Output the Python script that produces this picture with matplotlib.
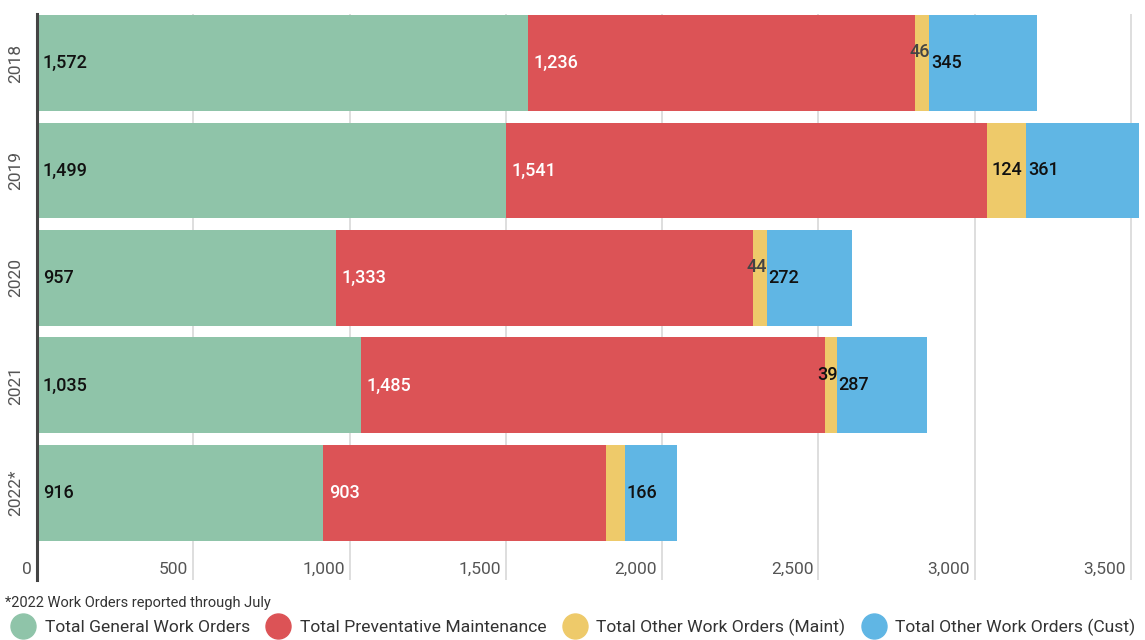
import matplotlib.pyplot as plt
from matplotlib.lines import Line2D
import numpy as np

plt.rcParams['font.family'] = ['Roboto', 'DejaVu Sans']

years = ["2018", "2019", "2020", "2021", "2022*"]
general = [1572, 1499, 957, 1035, 916]
preventative = [1236, 1541, 1333, 1485, 903]
other_maint = [46, 124, 44, 39, 62]
other_cust = [345, 361, 272, 287, 166]

series_names = ["Total General Work Orders", "Total Preventative Maintenance",
                "Total Other Work Orders (Maint)", "Total Other Work Orders (Cust)"]
colors = ["#8fc4a9", "#dc5356", "#eeca6a", "#60b6e4"]
x_ticks = [0, 500, 1000, 1500, 2000, 2500, 3000, 3500]

fig = plt.figure(figsize=(11.45, 6.4), dpi=100)
ax = fig.add_axes([37 / 1145, 1 - 580 / 640, 1104 / 1145, 566 / 640])

y = np.arange(len(years))
series = [general, preventative, other_maint, other_cust]
left = np.zeros(len(years))
for vals, color in zip(series, colors):
    ax.barh(y, vals, left=left, height=0.893, color=color, zorder=2)
    left += np.array(vals)

# value labels
lbl = dict(fontsize=13, fontweight='medium', zorder=3)
for i in range(len(years)):
    ax.text(18, y[i], f"{general[i]:,}", va='center', ha='left', color='#111111', **lbl)
    ax.text(general[i] + 18, y[i], f"{preventative[i]:,}", va='center', ha='left',
            color='white', **lbl)
    start = general[i] + preventative[i]
    end = start + other_maint[i]
    if years[i] == "2019":
        ax.text(start + other_maint[i] / 2, y[i], f"{other_maint[i]:,}", va='center',
                ha='center', color='#111111', **lbl)
    elif not years[i].endswith("*"):
        shade = '#111111' if years[i] == "2021" else '#444444'
        ax.text(end + 3, y[i] - 0.1, f"{other_maint[i]:,}", va='center', ha='right',
                color=shade, **lbl)
    ax.text(end + 6, y[i], f"{other_cust[i]:,}", va='center', ha='left',
            color='#111111', **lbl)

ax.set_xlim(0, 3532)
ax.set_ylim(4.81, -0.456)
ax.set_yticks(y)
ax.set_yticklabels(years, rotation=90, va='center', fontsize=12.5, color='#555555')
ax.tick_params(axis='y', length=0, pad=10)

# x tick labels sit inside the plot, just left of each gridline
ax.set_xticks([])
for t in x_ticks:
    ax.axvline(t, color='#dedede', lw=1.4, zorder=1)
    ax.text(t - 16, 0.018, f"{t:,}", transform=ax.get_xaxis_transform(),
            ha='right', va='center', fontsize=12.5, color='#555555')

for side in ['top', 'right', 'bottom']:
    ax.spines[side].set_visible(False)
ax.spines['left'].set_color('#444444')
ax.spines['left'].set_linewidth(2.2)
ax.spines['left'].set_zorder(4)

fig.text(5 / 1145, 1 - 603 / 640, "*2022 Work Orders reported through July",
         fontsize=10.5, color='#333333', va='center', ha='left')

handles = [Line2D([], [], marker='o', linestyle='', markersize=18,
                  markerfacecolor=c, markeredgecolor=c) for c in colors]
fig.legend(handles, series_names, loc='center left', ncol=4,
           bbox_to_anchor=(8 / 1145, 1 - 627 / 640), frameon=False, fontsize=12.6,
           labelcolor='#333333', handlelength=1.3, handletextpad=0.6,
           columnspacing=0.95, borderaxespad=0, borderpad=0.2)

fig.savefig("out.png", dpi=100)
